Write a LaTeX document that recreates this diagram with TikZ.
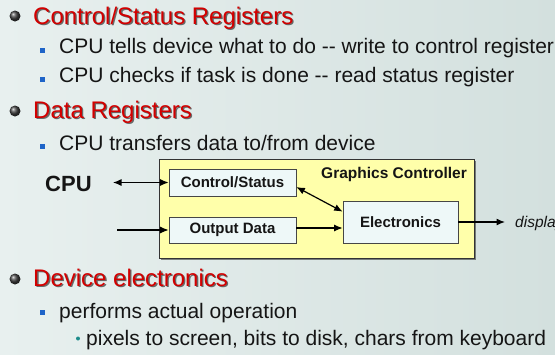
\documentclass[tikz,border=0pt]{standalone}
\usepackage{fontspec}
\setmainfont{Liberation Sans}
\usetikzlibrary{arrows.meta,shadows}
\definecolor{bgL}{HTML}{E8F0EF}
\definecolor{bgR}{HTML}{D3E0DE}
\definecolor{headred}{HTML}{D20000}
\definecolor{sqblue}{HTML}{1E64C8}
\definecolor{dotteal}{HTML}{1E8C8C}
\definecolor{boxyellow}{HTML}{FFFFAA}
\definecolor{boxcyan}{HTML}{EEF8F8}
\definecolor{txt}{HTML}{151515}
\begin{document}
\begin{tikzpicture}[x=1pt,y=-1pt,
  heading/.style={anchor=base west, inner sep=0, text=headred, font=\fontsize{24}{28}\selectfont},
  headshadow/.style={anchor=base west, inner sep=0, text=black, opacity=0.55, font=\fontsize{24}{28}\selectfont},
  subtext/.style={anchor=base west, inner sep=0, text=txt, font=\fontsize{21}{25}\selectfont},
  ballbullet/.style={circle, shade, ball color=black!75, minimum size=11pt, inner sep=0, draw=none},
  sqbullet/.style={rectangle, fill=sqblue, minimum size=5pt, inner sep=0, draw=none},
  dotbullet/.style={circle, fill=dotteal, minimum size=4pt, inner sep=0, draw=none},
  regbox/.style={draw=gray!55!black, fill=boxcyan, line width=0.7pt, text=txt,
    font=\bfseries\fontsize{15}{18}\selectfont, inner sep=0,
    drop shadow={shadow xshift=1pt, shadow yshift=-1pt, opacity=0.35, fill=black}},
  arr/.style={-{Latex[length=8.5pt,width=7pt]}, line width=1.2pt, black},
  darr/.style={{Latex[length=8.5pt,width=7pt]}-{Latex[length=8.5pt,width=7pt]}, line width=1.2pt, black},
  ]
\useasboundingbox (0,0) rectangle (555,354);
\clip (0,0) rectangle (555,354);
\shade[left color=bgL, right color=bgR] (0,0) rectangle (555,354);

% Heading 1
\node[ballbullet] (b1) at (15,16) {};
\node[headshadow] (h1s) at (34.3,25.3) {Control/Status Registers};
\node[heading] (h1) at (33,24) {Control/Status Registers};
\node[sqbullet] (s1) at (42.5,50) {};
\node[subtext] (t1) at (59,53) {CPU tells device what to do -{}- write to control register};
\node[sqbullet] (s2) at (42.5,79) {};
\node[subtext] (t2) at (59,82) {CPU checks if task is done -{}- read status register};

% Heading 2
\node[ballbullet] (b2) at (15,111) {};
\node[headshadow] (h2s) at (34.3,119.3) {Data Registers};
\node[heading] (h2) at (33,118) {Data Registers};
\node[sqbullet] (s3) at (42.5,146.5) {};
\node[subtext] (t3) at (59,150) {CPU transfers data to/from device};

% Diagram
\node[draw=black!80, fill=boxyellow, line width=0.8pt, minimum width=315pt, minimum height=99pt, inner sep=0,
  drop shadow={shadow xshift=1.5pt, shadow yshift=-1.5pt, opacity=0.45, fill=black}] (gc) at (316.5,208.5) {};
\node[anchor=base east, inner sep=0, text=txt, font=\bfseries\fontsize{15.5}{18}\selectfont] (gclabel) at (467,178) {Graphics Controller};
\node[regbox, minimum width=127pt, minimum height=27pt] (cs) at (232.5,182.5) {Control/Status};
\node[regbox, minimum width=127pt, minimum height=26pt] (od) at (232.5,230) {Output Data};
\node[regbox, minimum width=115pt, minimum height=42pt] (elec) at (400.5,222) {Electronics};
\node[anchor=base west, inner sep=0, text=txt, font=\bfseries\fontsize{22}{26}\selectfont] (cpu) at (45,191) {CPU};
\node[anchor=base west, inner sep=0, text=txt, font=\itshape\fontsize{15.5}{18}\selectfont] (disp) at (515,227) {display};
\coordinate (cpuend) at (113,182.5);
\coordinate (inend) at (117,230);
\draw[darr] (cpuend) -- (cs.west);
\draw[arr] (inend) -- (od.west);
\draw[darr] ([yshift=-4.5pt]cs.east) -- ([yshift=-11pt]elec.north west);
\draw[arr] ([yshift=2pt]od.east) -- ([yshift=-6pt]elec.west);
\draw[arr, shorten >=10pt] (elec.east) -- (elec.east -| disp.west);

% Heading 3
\node[ballbullet] (b3) at (15,279) {};
\node[headshadow] (h3s) at (34.3,287.3) {Device electronics};
\node[heading] (h3) at (33,286) {Device electronics};
\node[sqbullet] (s4) at (42.5,312.5) {};
\node[subtext] (t4) at (59,318) {performs actual operation};
\node[dotbullet] (d1) at (78,338.5) {};
\node[subtext] (t5) at (86,345) {pixels to screen, bits to disk, chars from keyboard};
\end{tikzpicture}
\end{document}
